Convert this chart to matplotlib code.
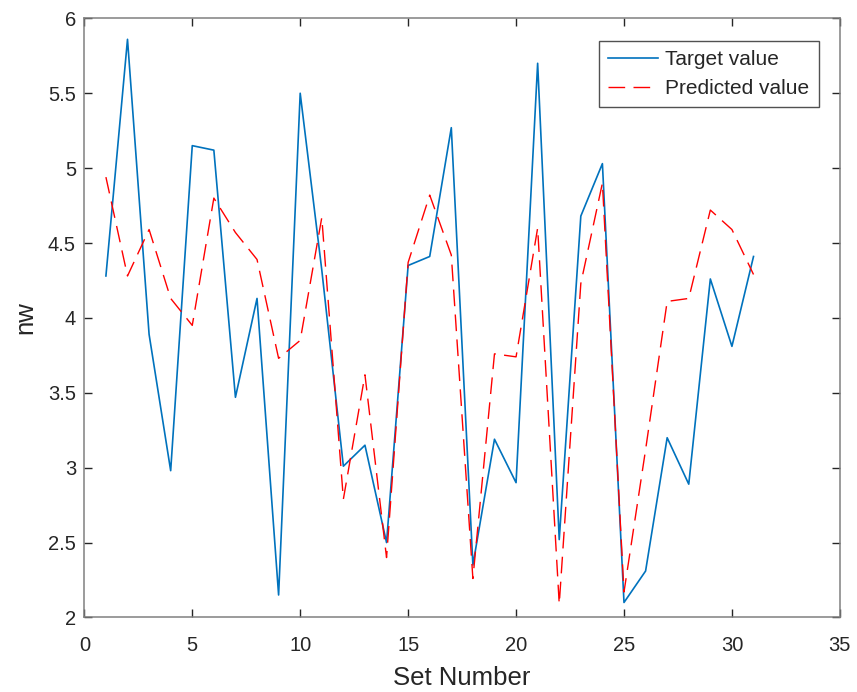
import matplotlib
matplotlib.use("Agg")
import matplotlib.pyplot as plt

plt.rcParams['font.family'] = ['Liberation Sans', 'DejaVu Sans']

set_number = list(range(1, 32))
target = [4.28, 5.86, 3.89, 2.98, 5.15, 5.12, 3.47, 4.13, 2.15, 5.50,
          4.32, 3.01, 3.15, 2.50, 4.35, 4.41, 5.27, 2.35, 3.19, 2.90,
          5.70, 2.52, 4.68, 5.03, 2.10, 2.31, 3.20, 2.89, 4.26, 3.81, 4.41]
predicted = [4.94, 4.28, 4.59, 4.13, 3.95, 4.80, 4.57, 4.39, 3.73, 3.85,
             4.67, 2.79, 3.62, 2.40, 4.37, 4.82, 4.42, 2.26, 3.76, 3.74,
             4.60, 2.09, 4.23, 4.90, 2.17, 3.12, 4.11, 4.13, 4.72, 4.59, 4.29]
x_ticks = [0, 5, 10, 15, 20, 25, 30, 35]
y_ticks = [2, 2.5, 3, 3.5, 4, 4.5, 5, 5.5, 6]

fig = plt.figure(figsize=(8.57, 6.92), dpi=100)
ax = fig.add_axes([0.0984, 0.1077, 0.8816, 0.8658])

ax.plot(set_number, target, color='#0072BD', lw=1.2, label='Target value')
ax.plot(set_number, predicted, color='#FF0000', lw=1.0, dashes=(12, 6),
        label='Predicted value')

ax.set_xlim(0, 35)
ax.set_ylim(2, 6)
ax.set_xticks(x_ticks)
ax.set_xticklabels([str(t) for t in x_ticks])
ax.set_yticks(y_ticks)
ax.set_yticklabels([('%g' % t) for t in y_ticks])

axis_col = '#808080'
for s in ax.spines.values():
    s.set_color(axis_col)
    s.set_linewidth(1.1)
ax.tick_params(direction='in', length=6, width=1.0, color='#262626',
               top=True, right=True, labelsize=14.5, labelcolor='#262626', pad=6)
ax.tick_params(axis='x', pad=13)

ax.set_xlabel('Set Number', fontsize=18.5, color='#262626', labelpad=8)
ax.set_ylabel('nw', fontsize=18.5, color='#262626', labelpad=8)

leg = ax.legend(loc='upper right', bbox_to_anchor=(0.972, 0.962),
                bbox_transform=ax.transAxes,
                fontsize=15, frameon=True, fancybox=False,
                edgecolor='#262626', borderaxespad=0.0, handlelength=2.4,
                handletextpad=0.35, borderpad=0.45, labelspacing=0.45)
leg.get_frame().set_linewidth(1.0)
for t in leg.get_texts():
    t.set_color('#262626')

fig.savefig('out.png', dpi=100)
